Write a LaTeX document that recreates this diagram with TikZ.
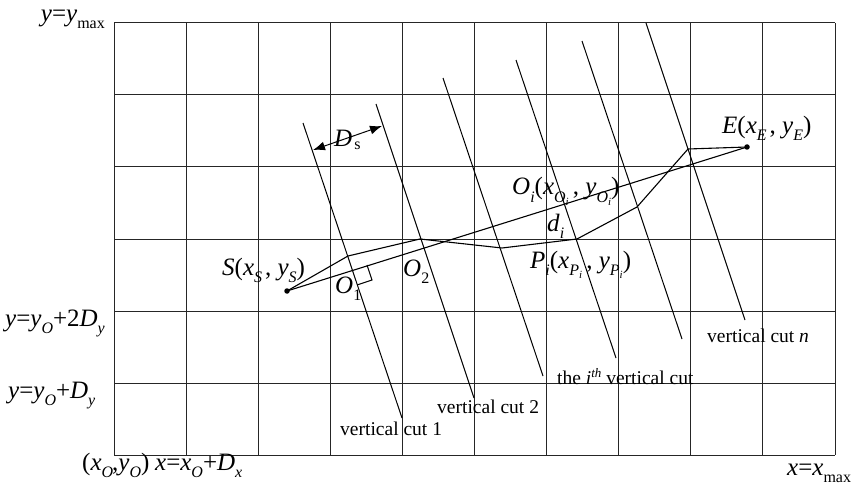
\documentclass[tikz,border=0pt]{standalone}
\usepackage{fontspec}
\setmainfont{Liberation Serif}
\usetikzlibrary{arrows.meta}
\newcommand{\iv}[1]{\textit{#1}}
\newcommand{\sbs}[1]{\raisebox{-7pt}{\fontsize{16}{16}\selectfont #1}}
\newcommand{\ssbs}[1]{\raisebox{-3.5pt}{\fontsize{11}{11}\selectfont #1}}
\begin{document}
\begin{tikzpicture}[x=1pt,y={(0pt,-1pt)},
  lbl/.style={inner sep=0pt, font=\fontsize{19.5}{22}\selectfont},
  big/.style={inner sep=0pt, font=\fontsize{25}{27}\selectfont},
  ax/.style={inner sep=0pt, font=\fontsize{25}{27}\selectfont},
  gridline/.style={line width=1pt, black!85},
  cutline/.style={line width=1pt},
  pathline/.style={line width=1.1pt, line join=miter},
  dot/.style={circle, fill, inner sep=0pt, minimum size=5.5pt},
  dsarrow/.style={line width=1pt, {Latex[length=12pt,width=9pt]}-{Latex[length=12pt,width=9pt]}}]
\useasboundingbox (0,0) rectangle (856,489);
% grid
\foreach \x in {114,186,258,330,402,474,546,618,690,762,835}
  \draw[gridline] (\x,23) -- (\x,455);
\foreach \y in {23,95,167,239,311,383,455}
  \draw[gridline] (114,\y) -- (835,\y);
% vertical cuts
\coordinate (c1a) at (303,123); \coordinate (c1b) at (402,418);
\coordinate (c2a) at (376,104); \coordinate (c2b) at (474,398);
\coordinate (c3a) at (443,78);  \coordinate (c3b) at (543,376);
\coordinate (c4a) at (516,60);  \coordinate (c4b) at (616,358);
\coordinate (c5a) at (582,41);  \coordinate (c5b) at (682,339);
\coordinate (c6a) at (646,23);  \coordinate (c6b) at (745,320);
\foreach \i in {1,...,6} \draw[cutline] (c\i a) -- (c\i b);
% start and end
\node[dot] (S) at (287,291) {};
\node[dot] (E) at (747,147) {};
\coordinate (P1) at (348,256);
\coordinate (P2) at (420,239);
\coordinate (P3) at (502,248);
\coordinate (P4) at (577,239);
\coordinate (P5) at (637,207);
\coordinate (P6) at (688,149);
\draw[pathline] (S.center) -- (P1) -- (P2) -- (P3) -- (P4) -- (P5) -- (P6) -- (E.center);
\draw[pathline] (S.center) -- (E.center);
% right angle mark
\coordinate (ra1) at (367,265); \coordinate (ra2) at (372,280); \coordinate (ra3) at (357,285);
\draw[line width=1pt] (ra1) -- (ra2) -- (ra3);
% Ds arrow
\coordinate (ds1) at (313,150); \coordinate (ds2) at (382,126);
\draw[dsarrow] (ds1) -- (ds2);
\node[big, anchor=base west] (dsl) at (334,147) {\iv{D}\raisebox{-3pt}{\fontsize{16}{16}\selectfont\hspace{2pt}s}};
% axis labels
\node[ax, anchor=base east] (ymax) at (105,22) {\iv{y}=\iv{y}\sbs{max}};
\node[ax, anchor=base west] (y2) at (5,326) {\iv{y}=\iv{y}\sbs{\iv{O}}+2\iv{D}\sbs{\iv{y}}};
\node[ax, anchor=base west] (y1) at (8,398) {\iv{y}=\iv{y}\sbs{\iv{O}}+\iv{D}\sbs{\iv{y}}};
\node[ax, anchor=base west] (orig) at (82,470) {(\iv{x}\sbs{\iv{O}}\hspace{-1pt},\iv{y}\sbs{\iv{O}})};
\node[ax, anchor=base west] (x1) at (155,470) {\iv{x}=\iv{x}\sbs{\iv{O}}+\iv{D}\sbs{\iv{x}}};
\node[ax, anchor=base west] (xmax) at (787,475) {\iv{x}=\iv{x}\sbs{max}};
% point labels
\node[big, anchor=base west] (Sl) at (222,275) {\iv{S}(\iv{x}\sbs{\iv{S}}\hspace{3pt}, \iv{y}\sbs{\iv{S}})};
\node[big, anchor=base west] (El) at (722,134) {\iv{E}(\iv{x}\sbs{\iv{E}}\hspace{3pt}, \iv{y}\sbs{\iv{E}})};
\node[big, anchor=base west] (O1l) at (335,293) {\iv{O}\sbs{1}};
\node[big, anchor=base west] (O2l) at (403,276) {\iv{O}\sbs{2}};
\node[big, anchor=base west] (Oil) at (512,195) {\iv{O}\sbs{\iv{i}}(\iv{x}\sbs{\iv{O}\ssbs{\iv{i}}}\,, \iv{y}\sbs{\iv{O}\ssbs{\iv{i}}})};
\node[big, anchor=base west] (dil) at (547,231) {\iv{d}\sbs{\iv{i}}};
\node[big, anchor=base west] (Pil) at (530,268) {\iv{P}\sbs{\iv{i}}(\iv{x}\sbs{\iv{P}\ssbs{\iv{i}}}\,, \iv{y}\sbs{\iv{P}\ssbs{\iv{i}}})};
% cut labels
\node[lbl, anchor=base west] (l1) at (340,435) {vertical cut 1};
\node[lbl, anchor=base west] (l2) at (437,413) {vertical cut 2};
\node[lbl, anchor=base west] (li) at (557,384) {the \iv{i}\raisebox{7pt}{\fontsize{13}{13}\selectfont\iv{th}} vertical cut};
\node[lbl, anchor=base west] (ln) at (707,342) {vertical cut \iv{n}};
\end{tikzpicture}
\end{document}
